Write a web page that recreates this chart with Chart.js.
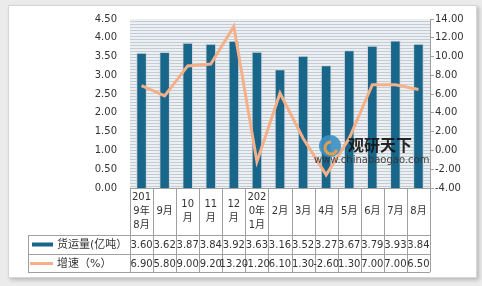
<!DOCTYPE html>
<html>
<head>
<meta charset="utf-8">
<script src="https://cdn.jsdelivr.net/npm/chart.js@4/dist/chart.umd.min.js"></script>
<style>
    html, body { margin: 0; padding: 0; }
    body { width: 482px; height: 286px; background: #ebebeb; position: relative; overflow: hidden; }
    #frame { position: absolute; left: 8px; top: 5px; width: 467px; height: 271px; background: #fff; border: 1px solid #d6d6d6; box-shadow: 2px 2px 4px rgba(0, 0, 0, 0.22); }
    #wrap { position: absolute; left: 0; top: 0; width: 482px; height: 286px; }
</style>
</head>
<body>
<div id="frame"></div>
<div id="wrap"><canvas id="chart" width="482" height="286"></canvas></div>
<script>
const categories = ['2019年8月', '9月', '10月', '11月', '12月', '2020年1月', '2月', '3月', '4月', '5月', '6月', '7月', '8月'];
const freight = [3.60, 3.62, 3.87, 3.84, 3.92, 3.63, 3.16, 3.52, 3.27, 3.67, 3.79, 3.93, 3.84];
const growth = [6.90, 5.80, 9.00, 9.20, 13.20, -1.20, 6.10, 1.30, -2.60, 1.30, 7.00, 7.00, 6.50];
const seriesNames = ['货运量(亿吨）', '增速（%）'];
const leftAxis = { min: 0, max: 4.5, step: 0.5 };
const rightAxis = { min: -4, max: 14, step: 2 };

const barColor = '#18668a';
const lineColor = '#f5b08a';
const textColor = '#333';
const gridColor = '#a0a0a0';
const fontFamily = '"DejaVu Sans", "Noto Sans CJK SC", sans-serif';

function stripePattern(ctx) {
    const c = document.createElement('canvas');
    c.width = 4;
    c.height = 3;
    const p = c.getContext('2d');
    p.fillStyle = '#edf0f2';
    p.fillRect(0, 0, 4, 3);
    p.fillStyle = '#c4ccd3';
    p.fillRect(0, 0, 4, 1);
    return ctx.createPattern(c, 'repeat');
}

// break a label into lines that fit a table column
function wrapLabel(ctx, text, maxWidth) {
    const lines = [];
    let line = '';
    for (const ch of text) {
        if (line && ctx.measureText(line + ch).width > maxWidth) {
            lines.push(line);
            line = ch;
        } else {
            line += ch;
        }
    }
    if (line) lines.push(line);
    return lines;
}

const backgroundPlugin = {
    id: 'stripes',
    beforeDatasetsDraw(chart) {
        const { ctx, chartArea: a } = chart;
        ctx.save();
        ctx.fillStyle = stripePattern(ctx);
        ctx.fillRect(a.left, a.top, a.right - a.left, a.bottom - a.top);
        ctx.restore();
    }
};

const tablePlugin = {
    id: 'dataTable',
    afterDraw(chart) {
        const { ctx, chartArea: a } = chart;
        const n = categories.length;
        const colW = (a.right - a.left) / n;
        const top = a.bottom;
        const headBottom = top + 47;
        const row1 = headBottom + 19;
        const row2 = row1 + 18;
        const legendLeft = 28;

        ctx.save();
        ctx.strokeStyle = gridColor;
        ctx.lineWidth = 1;
        ctx.beginPath();
        ctx.moveTo(a.left, top + 0.5);
        ctx.lineTo(a.right, top + 0.5);
        for (let i = 0; i <= n; i++) {
            const x = Math.round(a.left + i * colW) + 0.5;
            ctx.moveTo(x, top);
            ctx.lineTo(x, row2);
        }
        [headBottom, row1, row2].forEach(y => {
            ctx.moveTo(legendLeft, y + 0.5);
            ctx.lineTo(a.right, y + 0.5);
        });
        ctx.moveTo(legendLeft + 0.5, headBottom);
        ctx.lineTo(legendLeft + 0.5, row2);
        ctx.stroke();

        ctx.fillStyle = textColor;
        ctx.font = '10px ' + fontFamily;
        ctx.textAlign = 'center';
        ctx.textBaseline = 'middle';
        categories.forEach((cat, i) => {
            const cx = a.left + (i + 0.5) * colW;
            const lines = wrapLabel(ctx, cat, colW - 2);
            const lh = 14;
            const startY = (top + headBottom) / 2 - (lines.length - 1) * lh / 2;
            lines.forEach((l, j) => ctx.fillText(l, cx, startY + j * lh));
            ctx.fillText(freight[i].toFixed(2), cx, (headBottom + row1) / 2 + 1);
            ctx.fillText(growth[i].toFixed(2), cx, (row1 + row2) / 2 + 1);
        });

        // legend keys
        ctx.fillStyle = barColor;
        ctx.fillRect(32, (headBottom + row1) / 2 - 2, 21, 4);
        ctx.strokeStyle = lineColor;
        ctx.lineWidth = 3;
        ctx.beginPath();
        ctx.moveTo(30, (row1 + row2) / 2 + 0.5);
        ctx.lineTo(53, (row1 + row2) / 2 + 0.5);
        ctx.stroke();

        ctx.fillStyle = textColor;
        ctx.font = '11px ' + fontFamily;
        ctx.textAlign = 'left';
        ctx.fillText(seriesNames[0], 57, (headBottom + row1) / 2 + 1);
        ctx.fillText(seriesNames[1], 57, (row1 + row2) / 2 + 1);
        ctx.restore();
    }
};

const watermarkPlugin = {
    id: 'watermark',
    afterDatasetsDraw(chart) {
        const ctx = chart.ctx;
        ctx.save();
        ctx.globalAlpha = 0.9;
        ctx.beginPath();
        ctx.arc(330, 146, 11, 0, Math.PI * 2);
        ctx.fillStyle = '#3b8fc4';
        ctx.fill();
        ctx.beginPath();
        ctx.arc(331, 148, 6, 0.3, Math.PI * 1.5);
        ctx.strokeStyle = '#f0a040';
        ctx.lineWidth = 3;
        ctx.stroke();
        ctx.fillStyle = '#111';
        ctx.font = 'bold 16px "Noto Sans CJK SC", sans-serif';
        ctx.textBaseline = 'middle';
        ctx.fillText('观研天下', 348, 145);
        ctx.fillStyle = '#333';
        ctx.font = '10px "DejaVu Sans", sans-serif';
        ctx.fillText('www.chinabaogao.com', 314, 160);
        ctx.restore();
    }
};

const ctx = document.getElementById('chart').getContext('2d');
new Chart(ctx, {
    data: {
        labels: categories,
        datasets: [
            {
                type: 'line',
                label: seriesNames[1],
                data: growth,
                yAxisID: 'y1',
                borderColor: lineColor,
                borderWidth: 3,
                pointRadius: 0,
                tension: 0,
                order: 0
            },
            {
                type: 'bar',
                label: seriesNames[0],
                data: freight,
                yAxisID: 'y',
                backgroundColor: barColor,
                borderColor: 'rgba(205, 212, 218, 0.95)',
                borderWidth: 1,
                barPercentage: 0.46,
                categoryPercentage: 1,
                order: 1
            }
        ]
    },
    options: {
        responsive: false,
        animation: false,
        devicePixelRatio: 1,
        layout: { padding: { left: 0, right: 0, top: 18, bottom: 98 } },
        plugins: {
            legend: { display: false },
            tooltip: { enabled: false }
        },
        scales: {
            x: { display: false },
            y: {
                position: 'left',
                min: leftAxis.min,
                max: leftAxis.max,
                ticks: {
                    stepSize: leftAxis.step,
                    padding: 13,
                    color: textColor,
                    font: { family: fontFamily, size: 10 },
                    callback: v => v.toFixed(2)
                },
                grid: { display: false, drawTicks: false },
                border: { display: false },
                afterFit: scale => { scale.width = 130; }
            },
            y1: {
                position: 'right',
                min: rightAxis.min,
                max: rightAxis.max,
                ticks: {
                    stepSize: rightAxis.step,
                    padding: 1,
                    color: textColor,
                    font: { family: fontFamily, size: 10 },
                    callback: v => v.toFixed(2)
                },
                grid: { drawOnChartArea: false, drawTicks: true, tickLength: 4, color: gridColor },
                border: { display: true, color: gridColor },
                afterFit: scale => { scale.width = 52; }
            }
        }
    },
    plugins: [backgroundPlugin, tablePlugin, watermarkPlugin]
});
</script>
</body>
</html>
